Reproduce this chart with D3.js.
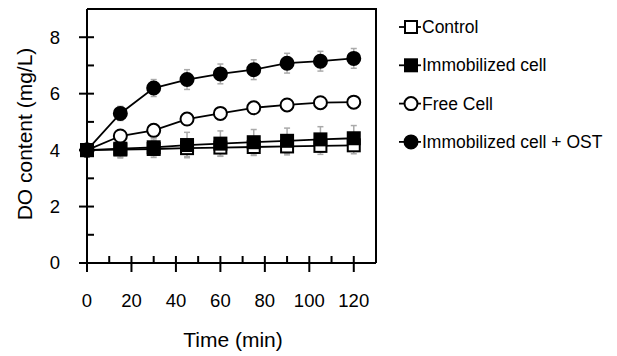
<!DOCTYPE html>
<meta charset="utf-8">
<style>
  body { margin: 0; background: #fff; }
  svg { font-family: "Liberation Sans", Arial, sans-serif; }
  .axis path, .axis line { fill: none; stroke: #000; stroke-width: 2px; }
  .axis text { font-size: 18.5px; fill: #000; }
</style>
<body>
<script src="https://d3js.org/d3.v7.min.js"></script>
<script>

// sampling times (min)
var times = [0, 15, 30, 45, 60, 75, 90, 105, 120];

// DO content (mg/L) for each series
var control     = [4.0, 4.02, 4.04, 4.07, 4.09, 4.11, 4.13, 4.15, 4.17];
var immobilized = [4.0, 4.05, 4.1, 4.18, 4.23, 4.28, 4.33, 4.38, 4.42];
var freeCell    = [4.0, 4.5, 4.7, 5.1, 5.3, 5.5, 5.6, 5.68, 5.7];
var immobOst    = [4.0, 5.3, 6.2, 6.5, 6.7, 6.85, 7.08, 7.15, 7.25];

// error (+/-) per series
var errControl = [0, 0.3, 0.3, 0.3, 0.3, 0.3, 0.3, 0.3, 0.3];
var errImmob   = [0, 0.3, 0.3, 0.45, 0.45, 0.45, 0.45, 0.45, 0.45];
var errFree    = [0, 0.1, 0.1, 0.1, 0.1, 0.1, 0.1, 0.1, 0.1];
var errOst     = [0, 0.25, 0.3, 0.35, 0.35, 0.35, 0.35, 0.35, 0.35];

var seriesNames = ["Control", "Immobilized cell", "Free Cell", "Immobilized cell + OST"];
var xTicks = [0, 20, 40, 60, 80, 100, 120];
var yTicks = [0, 2, 4, 6, 8];

var series = [
  {name: seriesNames[0], vals: control, err: errControl, shape: "square", fill: "#fff"},
  {name: seriesNames[1], vals: immobilized, err: errImmob, shape: "square", fill: "#000"},
  {name: seriesNames[2], vals: freeCell, err: errFree, shape: "circle", fill: "#fff"},
  {name: seriesNames[3], vals: immobOst, err: errOst, shape: "circle", fill: "#000"}
];

var width = 617, height = 356;
var svg = d3.select("body").append("svg")
    .attr("width", width)
    .attr("height", height);

var x = d3.scaleLinear().domain([0, 130]).range([87, 376]);
var y = d3.scaleLinear().domain([0, 9]).range([263, 9]);

// frame top & right
svg.append("path")
    .attr("d", "M" + x(0) + "," + y(9) + "H" + x(130) + "V" + y(0))
    .attr("fill", "none")
    .attr("stroke", "#000")
    .attr("stroke-width", 2);

// x axis: minor ticks inside, major ticks crossing
var gx = svg.append("g").attr("class", "axis")
    .attr("transform", "translate(0," + y(0) + ")");
gx.append("line").attr("x1", x(0)).attr("x2", x(130)).attr("y1", 0).attr("y2", 0);
gx.selectAll(".minor").data(d3.range(10, 130, 20)).enter().append("line")
    .attr("x1", d => x(d)).attr("x2", d => x(d)).attr("y1", 0).attr("y2", -7);
gx.selectAll(".major").data(xTicks).enter().append("line")
    .attr("x1", d => x(d)).attr("x2", d => x(d)).attr("y1", -7).attr("y2", 9);
gx.selectAll("text").data(xTicks).enter().append("text")
    .attr("x", d => x(d)).attr("y", 44)
    .attr("text-anchor", "middle")
    .text(d => d);

var gy = svg.append("g").attr("class", "axis")
    .attr("transform", "translate(" + x(0) + ",0)");
gy.append("line").attr("x1", 0).attr("x2", 0).attr("y1", y(0)).attr("y2", y(9));
gy.selectAll(".minor").data(d3.range(1, 9, 2)).enter().append("line")
    .attr("x1", 0).attr("x2", 7).attr("y1", d => y(d)).attr("y2", d => y(d));
gy.selectAll(".major").data(yTicks).enter().append("line")
    .attr("x1", -8).attr("x2", 7).attr("y1", d => y(d)).attr("y2", d => y(d));
gy.selectAll("text").data(yTicks).enter().append("text")
    .attr("x", -27).attr("y", d => y(d)).attr("dy", "0.35em")
    .attr("text-anchor", "end")
    .text(d => d);

// axis titles
svg.append("text")
    .attr("x", 233).attr("y", 347)
    .attr("text-anchor", "middle")
    .style("font-size", "21px")
    .text("Time (min)");
svg.append("text")
    .attr("transform", "translate(32,134) rotate(-90)")
    .attr("text-anchor", "middle")
    .style("font-size", "21px")
    .text("DO content (mg/L)");

var line = d3.line()
    .x((d, i) => x(times[i]))
    .y(d => y(d));

function drawMarker(g, s, cx, cy) {
  if (s.shape == "square") {
    g.append("rect")
      .attr("x", cx - 6).attr("y", cy - 6)
      .attr("width", 12).attr("height", 12)
      .attr("fill", s.fill).attr("stroke", "#000").attr("stroke-width", 2);
  } else {
    g.append("circle")
      .attr("cx", cx).attr("cy", cy).attr("r", 6.5)
      .attr("fill", s.fill).attr("stroke", "#000").attr("stroke-width", 2);
  }
}

// error bars
series.forEach(function(s) {
  var eb = svg.append("g").attr("stroke", "#aaa").attr("stroke-width", 1.5);
  s.vals.forEach(function(v, i) {
    if (!s.err[i]) return;
    var cx = x(times[i]);
    eb.append("line").attr("x1", cx).attr("x2", cx)
      .attr("y1", y(v - s.err[i])).attr("y2", y(v + s.err[i]));
    [v - s.err[i], v + s.err[i]].forEach(function(e) {
      eb.append("line").attr("x1", cx - 3).attr("x2", cx + 3)
        .attr("y1", y(e)).attr("y2", y(e));
    });
  });
});

series.forEach(function(s) {
  svg.append("path")
    .datum(s.vals)
    .attr("d", line)
    .attr("fill", "none")
    .attr("stroke", "#000")
    .attr("stroke-width", 1.8);
  var g = svg.append("g");
  s.vals.forEach(function(v, i) { drawMarker(g, s, x(times[i]), y(v)); });
});

// legend
var legend = svg.append("g");
series.forEach(function(s, i) {
  var ly = 27 + i * 38.3;
  var g = legend.append("g");
  g.append("line").attr("x1", 399).attr("x2", 421)
    .attr("y1", ly).attr("y2", ly)
    .attr("stroke", "#000").attr("stroke-width", 1.8);
  drawMarker(g, s, 411, ly);
  g.append("text")
    .attr("x", 422).attr("y", ly).attr("dy", "0.35em")
    .style("font-size", "17.5px")
    .text(s.name);
});

</script>
</body>
